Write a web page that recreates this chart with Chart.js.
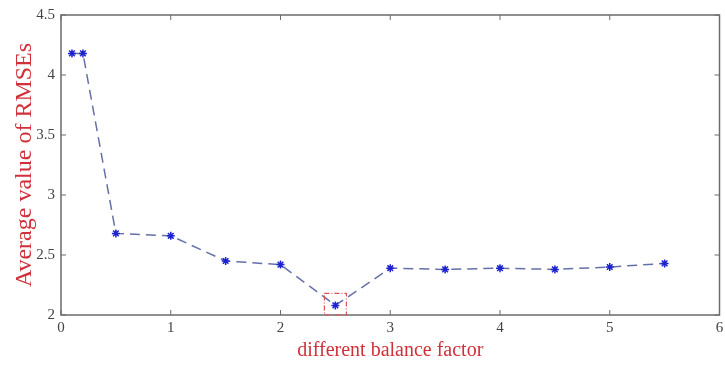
<!DOCTYPE html>
<html>
<head>
<meta charset="utf-8">
<script src="https://cdn.jsdelivr.net/npm/chart.js@4"></script>
<style>
  html, body { margin: 0; padding: 0; background: #fff; }
  #wrap { width: 725px; height: 366px; }
</style>
</head>
<body>
<div id="wrap"><canvas id="myChart"></canvas></div>
<script>
// data
const balanceFactor = [0.1, 0.2, 0.5, 1, 1.5, 2, 2.5, 3, 3.5, 4, 4.5, 5, 5.5];
const avgRmse = [4.18, 4.18, 2.68, 2.66, 2.45, 2.42, 2.08, 2.39, 2.38, 2.39, 2.38, 2.40, 2.43];
const xTicks = [0, 1, 2, 3, 4, 5, 6];
const yTicks = [2, 2.5, 3, 3.5, 4, 4.5];
// red dash-dot box around the best point
const boxX = [2.4, 2.6];
const boxY = [2.0, 2.18];

const serif = "'Liberation Serif', 'DejaVu Serif', serif";

// frame + inward tick marks on all four sides, and the highlight box
const framePlugin = {
  id: "frame",
  afterDatasetsDraw(chart) {
    const c = chart.ctx;
    const a = chart.chartArea;
    const xs = chart.scales.x;
    const ys = chart.scales.y;
    c.save();
    c.strokeStyle = "#6b6b6b";
    c.lineWidth = 1.5;
    c.strokeRect(a.left, a.top, a.right - a.left, a.bottom - a.top);
    c.lineWidth = 1;
    for (let t of xTicks) {
      const px = xs.getPixelForValue(t);
      c.beginPath();
      c.moveTo(px, a.bottom); c.lineTo(px, a.bottom - 5);
      c.moveTo(px, a.top); c.lineTo(px, a.top + 5);
      c.stroke();
    }
    for (let t of yTicks) {
      const py = ys.getPixelForValue(t);
      c.beginPath();
      c.moveTo(a.left, py); c.lineTo(a.left + 5, py);
      c.moveTo(a.right, py); c.lineTo(a.right - 5, py);
      c.stroke();
    }
    // highlight box
    const x0 = xs.getPixelForValue(boxX[0]);
    const x1 = xs.getPixelForValue(boxX[1]);
    const y0 = ys.getPixelForValue(boxY[1]);
    const y1 = ys.getPixelForValue(boxY[0]);
    c.strokeStyle = "#e0505a";
    c.lineWidth = 1.2;
    c.setLineDash([5, 2, 1, 2]);
    c.strokeRect(x0, y0, x1 - x0, y1 - y0);
    c.restore();
  }
};

const ctx = document.getElementById("myChart").getContext("2d");

const chart = new Chart(ctx, {
  type: "scatter",
  data: {
    datasets: [
      {
        label: "RMSE",
        data: balanceFactor.map((x, i) => ({ x: x, y: avgRmse[i] })),
        showLine: true,
        borderColor: "#6470a8",
        borderWidth: 1.5,
        borderDash: [10, 6],
        pointStyle: "star",
        pointRadius: 4,
        pointBorderWidth: 1.5,
        pointBorderColor: "#1c22d0",
        pointBackgroundColor: "#1c22d0"
      }
    ]
  },
  options: {
    responsive: true,
    maintainAspectRatio: false,
    animation: false,
    layout: { padding: { top: 15, right: 0, left: 0, bottom: 0 } },
    plugins: {
      legend: { display: false },
      tooltip: { enabled: false }
    },
    scales: {
      x: {
        type: "linear",
        min: 0,
        max: 6,
        afterBuildTicks(scale) { scale.ticks = xTicks.map(v => ({ value: v })); },
        afterFit(scale) {
          scale.height = 51;
          scale.paddingLeft = 0;
          scale.paddingRight = 0;
        },
        grid: { display: false, drawTicks: false },
        border: { display: false },
        ticks: { color: "#444", font: { family: serif, size: 15 }, padding: 4 },
        title: {
          display: true,
          text: "different balance factor",
          color: "#d0303a",
          font: { family: serif, size: 20 },
          padding: { top: 0, bottom: 3 }
        }
      },
      y: {
        type: "linear",
        min: 2,
        max: 4.5,
        afterBuildTicks(scale) { scale.ticks = yTicks.map(v => ({ value: v })); },
        afterFit(scale) {
          scale.width = 61;
          scale.paddingTop = 0;
          scale.paddingBottom = 0;
        },
        grid: { display: false, drawTicks: false },
        border: { display: false },
        ticks: {
          color: "#444",
          font: { family: serif, size: 15 },
          padding: 6,
          callback: v => String(v)
        },
        title: {
          display: true,
          text: "Average value of RMSEs",
          color: "#d0303a",
          font: { family: serif, size: 24 },
          padding: { top: 10, bottom: 0 }
        }
      }
    }
  },
  plugins: [framePlugin]
});
</script>
</body>
</html>
